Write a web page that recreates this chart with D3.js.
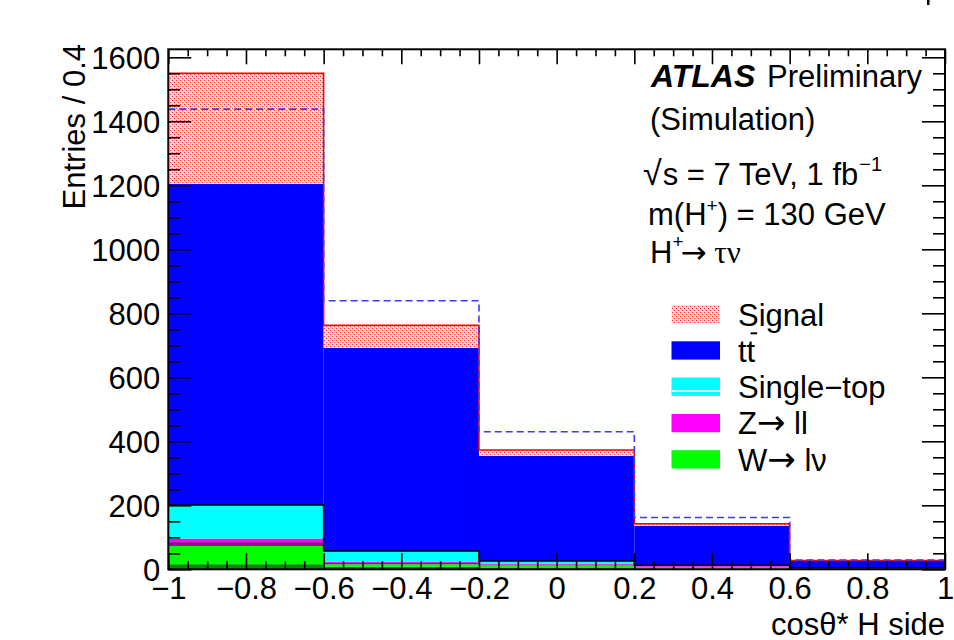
<!DOCTYPE html>
<html><head><meta charset="utf-8">
<script src="https://cdn.jsdelivr.net/npm/d3@7"></script>
<style>
html,body{margin:0;padding:0;background:#fff;}
svg text{font-family:"Liberation Sans",Arial,Helvetica,sans-serif;fill:#000;}
.arr{font-family:"DejaVu Sans",sans-serif;}
.gr{font-family:"Liberation Serif","DejaVu Serif",serif;}
</style></head>
<body>
<svg id="c" width="954" height="640"></svg>
<script>
// ---- data ----
const binEdges = [-1, -0.6, -0.2, 0.2, 0.6, 1];
const wDark = [16, 8, 6, 3, 1];
const wLnu = [57, 8, 6, 3, 1];
const zDark = [12, 4, 3, 3, 1];
const zll = [11, 4, 3, 3, 1];
const singleTop = [105, 33, 8, 1, 1];
const ttbar = [1003, 635, 329, 123, 21];
const signal = [346, 71, 18, 6, 1.5];
const dashedAlt = [1438, 839, 430, 162, 29];
const xMajorTicks = [-1, -0.8, -0.6, -0.4, -0.2, 0, 0.2, 0.4, 0.6, 0.8, 1];
const yMajorTicks = [0, 200, 400, 600, 800, 1000, 1200, 1400, 1600];
const legendLabels = ["Signal", "tt", "Single\u2212top", "Z", "W"];
const legendTails = ["", "", "", " ll", " l\u03bd"];

const FS = 31;
const svg = d3.select("#c");
const x = d3.scaleLinear().domain([-1, 1]).range([168.3, 945]);
const y = d3.scaleLinear().domain([0, 1625]).range([569.3, 49.3]);

// pattern for signal
const defs = svg.append("defs");
const pat = defs.append("pattern").attr("id", "sigpat").attr("patternUnits", "userSpaceOnUse")
  .attr("width", 4).attr("height", 4);
pat.append("rect").attr("width", 4).attr("height", 4).attr("fill", "#ffcccc");
pat.append("rect").attr("x", 0).attr("y", 0).attr("width", 1).attr("height", 1).attr("fill", "#ff3030");
pat.append("rect").attr("x", 2).attr("y", 2).attr("width", 1).attr("height", 1).attr("fill", "#ff3030");
pat.append("rect").attr("x", 1).attr("y", 3).attr("width", 1).attr("height", 1).attr("fill", "#ffffff");
pat.append("rect").attr("x", 3).attr("y", 1).attr("width", 1).attr("height", 1).attr("fill", "#ffffff");

const keys = ["wDark", "wLnu", "zDark", "zll", "singleTop", "ttbar", "signal"];
const fills = {wDark: "#0a8a0a", wLnu: "#00ff00", zDark: "#990099", zll: "#ff00ff",
  singleTop: "#00ffff", ttbar: "#0000ff", signal: "url(#sigpat)"};
const rows = binEdges.slice(0, -1).map((lo, i) => ({
  lo, hi: binEdges[i + 1], wDark: wDark[i], wLnu: wLnu[i], zDark: zDark[i], zll: zll[i],
  singleTop: singleTop[i], ttbar: ttbar[i], signal: signal[i]
}));
const stacked = d3.stack().keys(keys)(rows);

const gBars = svg.append("g");
stacked.forEach(layer => {
  gBars.append("g").selectAll("rect").data(layer).join("rect")
    .attr("x", d => x(d.data.lo))
    .attr("width", d => x(d.data.hi) - x(d.data.lo))
    .attr("y", d => y(d[1]))
    .attr("height", d => y(d[0]) - y(d[1]))
    .attr("fill", fills[layer.key]);
});

// step outlines
function stepLine(vals) {
  const pts = [];
  vals.forEach((v, i) => { pts.push([binEdges[i], v]); pts.push([binEdges[i + 1], v]); });
  return d3.line().x(d => x(d[0])).y(d => y(d[1]))(pts);
}
const layerTop = k => stacked.find(l => l.key === k).map(d => d[1]);
svg.append("path").attr("d", stepLine(layerTop("signal"))).attr("fill", "none")
  .attr("stroke", "#ff0000").attr("stroke-width", 1.5);
svg.append("path").attr("d", stepLine(layerTop("singleTop"))).attr("fill", "none")
  .attr("stroke", "#000").attr("stroke-width", 1.5);
svg.append("path").attr("d", stepLine(dashedAlt)).attr("fill", "none")
  .attr("stroke", "#3c3cf0").attr("stroke-width", 1.6).attr("stroke-dasharray", "7,4");

// axes
function axisG(axis, tr) {
  const g = svg.append("g").attr("transform", tr).call(axis);
  g.select(".domain").remove();
  g.selectAll(".tick line").attr("stroke", "#000").attr("stroke-width", 1.6);
  g.selectAll("text").attr("font-size", FS).style("font-family", '"Liberation Sans",Arial,sans-serif');
  return g;
}
const xMinor = d3.range(-1, 1.0001, 0.05).filter(v => !xMajorTicks.some(t => Math.abs(t - v) < 1e-6));
const yMinor = d3.range(0, 1625, 50).filter(v => v % 200 !== 0);
const fmt = d => String(d).replace("-", "\u2212");
// bottom
const gb = axisG(d3.axisBottom(x).tickValues(xMajorTicks).tickSize(-16).tickPadding(30)
  .tickFormat(fmt), `translate(0,${y(0)})`);
gb.selectAll("text").attr("dy", "0");
axisG(d3.axisBottom(x).tickValues(xMinor).tickSize(-8).tickFormat(""), `translate(0,${y(0)})`);
// top
axisG(d3.axisTop(x).tickValues(xMajorTicks).tickSize(-15).tickFormat(""), `translate(0,${y(1625)})`);
axisG(d3.axisTop(x).tickValues(xMinor).tickSize(-7).tickFormat(""), `translate(0,${y(1625)})`);
// left
const gl = axisG(d3.axisLeft(y).tickValues(yMajorTicks).tickSize(-23).tickPadding(8).tickFormat(fmt),
  `translate(${x(-1)},0)`);
gl.selectAll("text").attr("dy", "0.36em");
axisG(d3.axisLeft(y).tickValues(yMinor).tickSize(-12).tickFormat(""), `translate(${x(-1)},0)`);
// right
axisG(d3.axisRight(y).tickValues(yMajorTicks).tickSize(-23).tickFormat(""), `translate(${x(1)},0)`);
axisG(d3.axisRight(y).tickValues(yMinor).tickSize(-12).tickFormat(""), `translate(${x(1)},0)`);

// frame
svg.append("rect").attr("x", x(-1)).attr("y", y(1625)).attr("width", x(1) - x(-1))
  .attr("height", y(0) - y(1625)).attr("fill", "none").attr("stroke", "#000").attr("stroke-width", 2);

// titles
svg.append("text").attr("transform", "translate(85,44) rotate(-90)").attr("text-anchor", "end")
  .attr("font-size", FS).text("Entries / 0.4");
svg.append("text").attr("x", 945).attr("y", 634.5).attr("text-anchor", "end").attr("font-size", FS)
  .text("cos\u03b8* H side");

// ATLAS label block
const t1 = svg.append("text").attr("x", 651).attr("y", 87).attr("font-size", FS);
t1.append("tspan").attr("font-weight", "bold").attr("font-style", "italic").attr("font-size", 32).text("ATLAS");
t1.append("tspan").attr("x", 767).text("Preliminary");
svg.append("text").attr("x", 650).attr("y", 130).attr("font-size", FS).text("(Simulation)");
const t3 = svg.append("text").attr("x", 643).attr("y", 185).attr("font-size", FS);
t3.append("tspan").attr("font-size", 34).text("\u221a");
t3.append("tspan").attr("dx", 1).text("s = 7 TeV, 1 fb");
t3.append("tspan").attr("font-size", 20).attr("dy", -14).attr("dx", 1).text("\u22121");
const t4 = svg.append("text").attr("x", 648).attr("y", 225).attr("font-size", FS);
t4.append("tspan").text("m(H");
t4.append("tspan").attr("font-size", 19).attr("dy", -13).text("+");
t4.append("tspan").attr("dy", 13).text(") = 130 GeV");
const t5 = svg.append("text").attr("x", 650).attr("y", 263).attr("font-size", FS);
t5.append("tspan").text("H");
t5.append("tspan").attr("font-size", 19).attr("dy", -15).text("+");
t5.append("tspan").attr("class", "arr").attr("dy", 15).attr("dx", -3).text("\u2192");
t5.append("tspan").attr("class", "gr").text(" \u03c4\u03bd");

// legend
const legFills = ["url(#sigpat)", "#0000ff", "#00ffff", "#ff00ff", "#00ff00"];
const lg = svg.append("g");
legendLabels.forEach((lab, i) => {
  const by = 305 + i * 36.3;
  lg.append("rect").attr("x", 671.5).attr("y", by).attr("width", 48.5).attr("height", 18.3)
    .attr("fill", legFills[i]);
  if (i === 2) {
    lg.append("line").attr("x1", 671.5).attr("x2", 720).attr("y1", by + 13.5).attr("y2", by + 13.5)
      .attr("stroke", "#fff").attr("stroke-width", 1.5);
  }
  const tx = lg.append("text").attr("x", 738).attr("y", by + 20.5).attr("font-size", FS);
  tx.append("tspan").text(lab);
  if (i >= 3) {
    tx.append("tspan").attr("class", "arr").attr("font-size", 34).text("\u2192");
    tx.append("tspan").text(legendTails[i]);
  }
  if (i === 1) {
    const bb = tx.node().getBBox();
    const xe = bb.x + bb.width;
    lg.append("line").attr("x1", xe - 5).attr("x2", xe + 1.5).attr("y1", by - 8).attr("y2", by - 8)
      .attr("stroke", "#000").attr("stroke-width", 2);
  }
});

// stray glyph fragment at top edge
svg.append("rect").attr("x", 927).attr("y", 0).attr("width", 2.5).attr("height", 5).attr("fill", "#000");
</script>
</body></html>
